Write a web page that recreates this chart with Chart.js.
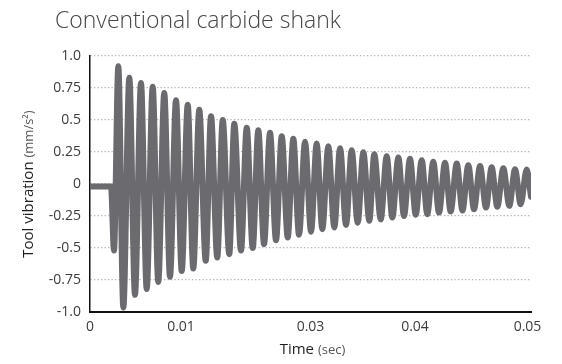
<!DOCTYPE html>
<html>
<head>
<meta charset="utf-8">
<script src="https://cdn.jsdelivr.net/npm/chart.js@4.4.1/dist/chart.umd.min.js"></script>
<style>
    html, body { margin: 0; padding: 0; background: #ffffff; }
    #vibChart { display: block; }
</style>
</head>
<body>
<canvas id="vibChart" width="562" height="364"></canvas>
<script>
// Chart text
const chartTitle = 'Conventional carbide shank';
const yTitleMain = 'Tool vibration';
const yTitleUnit = '(mm/s²)';
const xTitleMain = 'Time';
const xTitleUnit = '(sec)';

// Time (sec) of each turning point of the trace
const timeSec = [
    0, 0.00238, 0.00272, 0.00321, 0.00378, 0.00446, 0.00510, 0.00578, 0.00643, 0.00711,
    0.00774, 0.00842, 0.00907, 0.00975, 0.01040, 0.01108, 0.01171, 0.01239, 0.01312, 0.01372,
    0.01443, 0.01505, 0.01579, 0.01636, 0.01712, 0.01777, 0.01845, 0.01908, 0.01973, 0.02041,
    0.02109, 0.02174, 0.02242, 0.02305, 0.02370, 0.02438, 0.02506, 0.02570, 0.02634, 0.02702,
    0.02770, 0.02835, 0.02903, 0.02967, 0.03035, 0.03099, 0.03167, 0.03223, 0.03296, 0.03364,
    0.03428, 0.03496, 0.03560, 0.03628, 0.03693, 0.03761, 0.03824, 0.03892, 0.03957, 0.04025,
    0.04089, 0.04158, 0.04223, 0.04289, 0.04354, 0.04422, 0.04490, 0.04554, 0.04618, 0.04686,
    0.04754, 0.04819, 0.04883, 0.04951, 0.05000
];

// Tool vibration (mm/s²) at those points
const vibration = [
    -0.02, -0.02, -0.52, 0.92, -0.965, 0.83, -0.866, 0.79, -0.82, 0.76,
    -0.765, 0.71, -0.725, 0.655, -0.68, 0.62, -0.66, 0.58, -0.60, 0.53,
    -0.574, 0.50, -0.548, 0.47, -0.52, 0.44, -0.50, 0.42, -0.47, 0.40,
    -0.44, 0.373, -0.418, 0.353, -0.397, 0.33, -0.373, 0.316, -0.353, 0.295,
    -0.34, 0.28, -0.32, 0.264, -0.303, 0.248, -0.287, 0.233, -0.277, 0.217,
    -0.262, 0.207, -0.25, 0.197, -0.24, 0.186, -0.236, 0.173, -0.223, 0.166,
    -0.215, 0.16, -0.207, 0.147, -0.197, 0.14, -0.184, 0.13, -0.178, 0.123,
    -0.17, 0.116, -0.158, 0.113, -0.10
];

// Axis ticks (the x labels in the original sit at uneven spots)
const yTickValues = [-1, -0.75, -0.5, -0.25, 0, 0.25, 0.5, 0.75, 1];
const yTickLabels = ['-1.0', '-0.75', '-0.5', '-0.25', '0', '0.25', '0.5', '0.75', '1.0'];
const xTickValues = [0, 0.01032, 0.0250, 0.03685, 0.04960];
const xTickLabels = ['0', '0.01', '0.03', '0.04', '0.05'];

// Build point list for the line
const points = timeSec.map((t, i) => ({ x: t, y: vibration[i] }));

// Plugin that draws the chart title and the two-part axis titles
const titlePlugin = {
    id: 'titlePlugin',
    afterDraw(chart) {
        const ctx = chart.ctx;
        const area = chart.chartArea;
        ctx.save();

        // Main title
        ctx.fillStyle = '#454545';
        ctx.font = '300 23px "Open Sans"';
        ctx.textAlign = 'left';
        ctx.textBaseline = 'alphabetic';
        ctx.fillText(chartTitle, 55, 28);

        // Y title, rotated
        const mainFont = '15px "Open Sans"';
        const unitFont = '13px "Open Sans"';
        ctx.font = mainFont;
        const w1 = ctx.measureText(yTitleMain + ' ').width;
        ctx.font = unitFont;
        const w2 = ctx.measureText(yTitleUnit).width;
        const cy = (area.top + area.bottom) / 2;
        ctx.translate(33, cy);
        ctx.rotate(-Math.PI / 2);
        let start = -(w1 + w2) / 2;
        ctx.font = mainFont;
        ctx.fillStyle = '#1f1f1f';
        ctx.fillText(yTitleMain, start, 0);
        ctx.font = unitFont;
        ctx.fillStyle = '#555555';
        ctx.fillText(yTitleUnit, start + w1, 0);
        ctx.setTransform(1, 0, 0, 1, 0, 0);

        // X title
        ctx.font = mainFont;
        const w3 = ctx.measureText(xTitleMain + ' ').width;
        ctx.font = unitFont;
        const w4 = ctx.measureText(xTitleUnit).width;
        const cx = (area.left + area.right) / 2 + 2;
        start = cx - (w3 + w4) / 2;
        ctx.font = mainFont;
        ctx.fillStyle = '#1f1f1f';
        ctx.fillText(xTitleMain, start, 354);
        ctx.font = unitFont;
        ctx.fillStyle = '#555555';
        ctx.fillText(xTitleUnit, start + w3, 354);

        ctx.restore();
    }
};

const ctx = document.getElementById('vibChart').getContext('2d');

const vibChart = new Chart(ctx, {
    type: 'line',
    data: {
        datasets: [{
            label: 'Tool vibration',
            data: points,
            borderColor: '#6b6b6f',
            borderWidth: 6,
            pointRadius: 0,
            fill: false,
            cubicInterpolationMode: 'monotone',
            borderCapStyle: 'round',
            borderJoinStyle: 'round'
        }]
    },
    options: {
        responsive: false,
        animation: false,
        devicePixelRatio: 1,
        layout: {
            padding: { top: 56, right: 31, left: 0, bottom: 0 }
        },
        plugins: {
            legend: { display: false },
            tooltip: { enabled: false },
            title: { display: false }
        },
        scales: {
            x: {
                type: 'linear',
                min: 0,
                max: 0.05,
                afterBuildTicks: function(scale) {
                    scale.ticks = xTickValues.map(v => ({ value: v }));
                },
                afterFit: function(scale) {
                    scale.height = 52;
                },
                grid: { display: false, drawTicks: false },
                border: { display: true, color: '#111111', width: 2 },
                ticks: {
                    padding: 7,
                    color: '#3c3c3c',
                    font: { family: '"Open Sans"', size: 14 },
                    maxRotation: 0,
                    autoSkip: false,
                    callback: function(value, index) {
                        return xTickLabels[index];
                    }
                }
            },
            y: {
                min: -1,
                max: 1,
                afterBuildTicks: function(scale) {
                    scale.ticks = yTickValues.map(v => ({ value: v }));
                },
                afterFit: function(scale) {
                    scale.width = 90;
                },
                grid: {
                    color: '#b3b3b3',
                    lineWidth: 1.3,
                    drawTicks: false
                },
                border: { display: true, color: '#111111', width: 1.5, dash: [1.3, 2.2] },
                ticks: {
                    padding: 9,
                    color: '#3c3c3c',
                    font: { family: '"Open Sans"', size: 14 },
                    autoSkip: false,
                    callback: function(value, index) {
                        return yTickLabels[index];
                    }
                }
            }
        }
    },
    plugins: [titlePlugin]
});
</script>
</body>
</html>
